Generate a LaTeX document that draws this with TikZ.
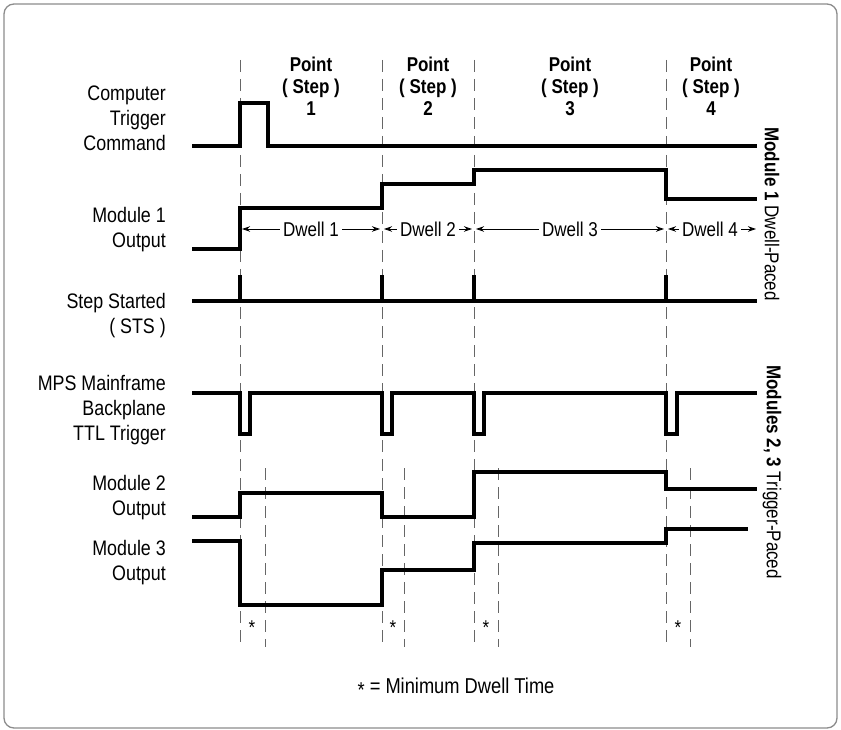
\documentclass[tikz,border=0pt]{standalone}
\usepackage{fontspec}
\setmainfont{Liberation Sans}[FakeStretch=0.85]
\usetikzlibrary{arrows.meta}
\begin{document}
\begin{tikzpicture}[x=1pt,y=-1pt,
  sig/.style={line width=3.2pt, line join=miter},
  ststick/.style={line width=4.6pt},
  guide/.style={black!60, line width=1pt, dash pattern=on 12pt off 7pt},
  lbl/.style={font=\fontsize{21}{25}\selectfont, align=right, anchor=east, inner sep=0pt},
  hdr/.style={font=\bfseries\fontsize{20}{22}\selectfont, align=center, inner sep=0pt},
  dwt/.style={font=\fontsize{20}{24}\selectfont, inner sep=3pt},
  dwa/.style={line width=0.9pt, -{Stealth[length=8pt,width=5.5pt]}},
  side/.style={font=\fontsize{20}{24}\selectfont, rotate=-90, inner sep=0pt},
  star/.style={font=\fontsize{20}{24}\selectfont, inner sep=0pt},
]
\useasboundingbox (0,0) rectangle (841,730);
\draw[black!45, line width=1.3pt, rounded corners=10pt] (4,4) rectangle (837,728);

% guide lines
\foreach \x in {240,382,474,666} \draw[guide] (\x,60) -- (\x,647);
\foreach \x in {265,404,498,690} \draw[guide] (\x,468) -- (\x,647);

% headers
\node[hdr] (p1) at (311,86) {Point\\( Step )\\1};
\node[hdr] (p2) at (428,86) {Point\\( Step )\\2};
\node[hdr] (p3) at (570,86) {Point\\( Step )\\3};
\node[hdr] (p4) at (711,86) {Point\\( Step )\\4};

% left labels
\node[lbl] (l1) at (166,118) {Computer\\Trigger\\Command};
\node[lbl] (l2) at (166,230) {Module 1\\Output};
\node[lbl] (l3) at (166,316) {Step Started\\( STS )};
\node[lbl] (l4) at (166,410) {MPS Mainframe\\Backplane\\TTL Trigger};
\node[lbl] (l5) at (166,498) {Module 2\\Output};
\node[lbl] (l6) at (166,563) {Module 3\\Output};

% computer trigger
\draw[sig] (192,146) -- (240,146) -- (240,103) -- (268,103) -- (268,146) -- (757,146);
% module 1 output
\draw[sig] (192,249) -- (240,249) -- (240,208) -- (382,208) -- (382,184) -- (474,184) -- (474,170) -- (666,170) -- (666,199) -- (757,199);
% STS
\draw[sig] (192,301) -- (757,301);
\foreach \x in {240,382,474,666} \draw[ststick] (\x,275) -- (\x,301);
% TTL trigger
\draw[sig] (192,393) -- (240,393) -- (240,434) -- (250,434) -- (250,393) -- (382,393) -- (382,434) -- (392,434) -- (392,393) -- (474,393) -- (474,434) -- (484,434) -- (484,393) -- (666,393) -- (666,434) -- (677,434) -- (677,393) -- (757,393);
% module 2
\draw[sig] (192,517) -- (240,517) -- (240,493) -- (382,493) -- (382,517) -- (474,517) -- (474,472) -- (666,472) -- (666,489) -- (757,489);
% module 3
\draw[sig] (192,541) -- (240,541) -- (240,605) -- (382,605) -- (382,570) -- (474,570) -- (474,543) -- (666,543) -- (666,529) -- (748,529);

% dwell arrows
\node[dwt] (d1) at (311,229) {Dwell 1};
\draw[dwa] (d1.west) -- (242,229);
\draw[dwa] (d1.east) -- (380,229);
\node[dwt] (d2) at (428,229) {Dwell 2};
\draw[dwa] (d2.west) -- (384,229);
\draw[dwa] (d2.east) -- (472,229);
\node[dwt] (d3) at (570,229) {Dwell 3};
\draw[dwa] (d3.west) -- (476,229);
\draw[dwa] (d3.east) -- (664,229);
\node[dwt] (d4) at (710,229) {Dwell 4};
\draw[dwa] (d4.west) -- (668,229);
\draw[dwa] (d4.east) -- (756,229);

% side labels
\node[side] (s1) at (772,214) {\textbf{Module 1} Dwell-Paced};
\node[side] (s2) at (772,472) {\textbf{Modules 2, 3} Trigger-Paced};

% stars
\foreach \x/\n in {252/a,393/b,486/c,678/d} \node[star] (st\n) at (\x,628) {*};

% note
\node[font=\fontsize{21.5}{25}\selectfont] (note) at (456,688) {\raisebox{-4pt}{*} = Minimum Dwell Time};
\end{tikzpicture}
\end{document}
